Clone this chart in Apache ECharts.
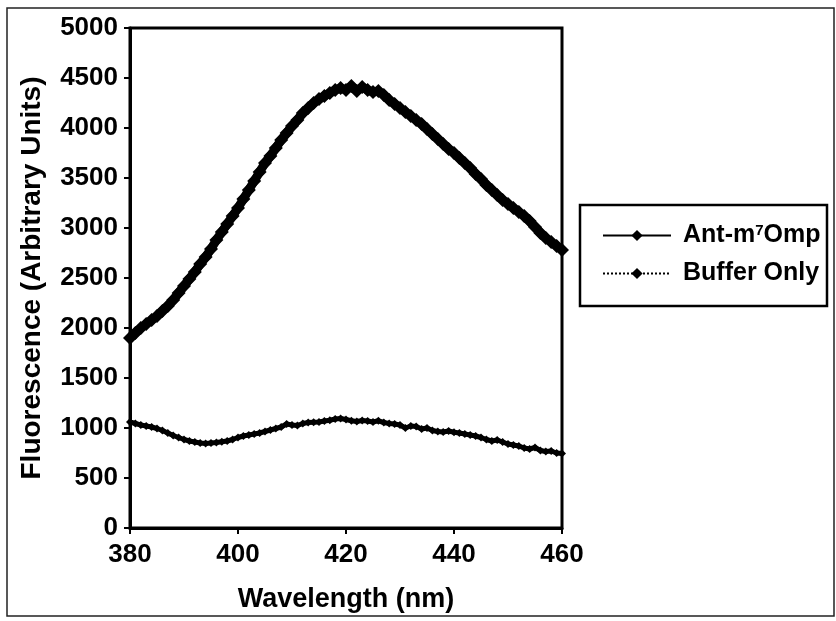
<!DOCTYPE html>
<html>
<head>
<meta charset="utf-8">
<script src="https://cdn.jsdelivr.net/npm/echarts@6/dist/echarts.min.js"></script>
<style>html,body{margin:0;padding:0;background:#fff;}#c{width:836px;height:621px;}</style>
</head>
<body>
<div id="c"></div>
<script>
var wavelengths = [380,381,382,383,384,385,386,387,388,389,390,391,392,393,394,395,396,397,398,399,400,401,402,403,404,405,406,407,408,409,410,411,412,413,414,415,416,417,418,419,420,421,422,423,424,425,426,427,428,429,430,431,432,433,434,435,436,437,438,439,440,441,442,443,444,445,446,447,448,449,450,451,452,453,454,455,456,457,458,459,460];
var antValues = [1900,1950,2000,2040,2080,2120,2170,2220,2280,2350,2420,2490,2560,2640,2710,2790,2880,2960,3040,3120,3200,3290,3380,3470,3560,3650,3720,3800,3880,3950,4020,4080,4150,4200,4250,4290,4320,4350,4380,4400,4380,4420,4370,4410,4380,4360,4370,4330,4280,4240,4200,4160,4120,4080,4040,3990,3940,3890,3840,3790,3750,3700,3650,3600,3540,3490,3430,3380,3330,3280,3240,3200,3160,3120,3070,3010,2950,2900,2860,2820,2780];
var bufferValues = [1060,1045,1030,1020,1010,995,975,950,925,905,885,870,860,850,845,850,855,862,870,885,905,920,930,940,950,965,980,995,1010,1040,1030,1025,1045,1055,1058,1060,1070,1078,1090,1095,1085,1072,1065,1075,1070,1060,1072,1055,1045,1040,1030,1000,1020,1015,990,1000,975,965,960,970,958,950,940,930,920,905,885,870,880,860,840,830,820,800,790,805,775,765,770,750,745];
var xTicks = [380,400,420,440,460];
var yTicks = [0,500,1000,1500,2000,2500,3000,3500,4000,4500,5000];
var seriesNames = ['Ant-m7Omp','Buffer Only'];
var xTitle = 'Wavelength (nm)';
var yTitle = 'Fluorescence (Arbitrary Units)';

function pairs(xs, ys){ return xs.map(function(x,i){ return [x, ys[i]]; }); }

var FONT = '"Liberation Sans", Arial, sans-serif';
var chart = echarts.init(document.getElementById('c'), null, {renderer:'canvas'});
chart.setOption({
  backgroundColor:'#fff',
  animation:false,
  grid:{left:130, right:274, top:28, bottom:93, show:true, borderColor:'#000', borderWidth:3, backgroundColor:'#fff'},
  xAxis:{
    type:'value', min:xTicks[0], max:xTicks[xTicks.length-1], interval:20,
    name:xTitle, nameLocation:'middle', nameGap:58,
    nameTextStyle:{fontFamily:FONT, fontWeight:'bold', fontSize:27, color:'#000'},
    axisLine:{show:true, onZero:false, lineStyle:{color:'#000', width:3}},
    axisTick:{show:true, inside:false, length:6, lineStyle:{color:'#000', width:2}},
    axisLabel:{fontFamily:FONT, fontWeight:'bold', fontSize:26, color:'#000', margin:14,
      formatter:function(v){ return String(v); }},
    splitLine:{show:false}
  },
  yAxis:{
    type:'value', min:yTicks[0], max:yTicks[yTicks.length-1], interval:500,
    name:yTitle, nameLocation:'middle', nameGap:84,
    nameTextStyle:{fontFamily:FONT, fontWeight:'bold', fontSize:28, color:'#000'},
    axisLine:{show:true, lineStyle:{color:'#000', width:3}},
    axisTick:{show:true, inside:false, length:6, lineStyle:{color:'#000', width:2}},
    axisLabel:{fontFamily:FONT, fontWeight:'bold', fontSize:26, color:'#000', margin:12,
      formatter:function(v){ return String(v); }},
    splitLine:{show:false}
  },
  legend:{
    orient:'vertical', left:597, top:218, itemWidth:68, itemHeight:14, itemGap:13,
    textStyle:{fontFamily:FONT, fontWeight:'bold', fontSize:25, color:'#000', padding:[0,0,0,7],
      rich:{sup:{fontFamily:FONT, fontWeight:'bold', fontSize:15, color:'#000', verticalAlign:'top', padding:[0,0,10,0]}}},
    formatter:function(n){ return n === seriesNames[0] ? 'Ant-m{sup|7}Omp' : n; },
    data:[
      {name:seriesNames[0], itemStyle:{color:'#000'}, lineStyle:{color:'#000', width:2, type:'solid'}},
      {name:seriesNames[1], itemStyle:{color:'#000'}, lineStyle:{color:'#000', width:2, type:'dotted'}}
    ]
  },
  graphic:[
    {type:'rect', shape:{x:7, y:8, width:827, height:608}, style:{fill:'none', stroke:'#222', lineWidth:1.5}, z:-1},
    {type:'rect', shape:{x:580, y:205, width:247, height:101}, style:{fill:'none', stroke:'#000', lineWidth:2.5}}
  ],
  series:[
    {name:seriesNames[0], type:'line', data:pairs(wavelengths, antValues), symbol:'diamond', symbolSize:14,
      showSymbol:true, itemStyle:{color:'#000'}, lineStyle:{color:'#000', width:9}, clip:false},
    {name:seriesNames[1], type:'line', data:pairs(wavelengths, bufferValues), symbol:'diamond', symbolSize:8,
      showSymbol:true, itemStyle:{color:'#000'}, lineStyle:{color:'#000', width:5}, clip:false}
  ]
});
</script>
</body>
</html>
